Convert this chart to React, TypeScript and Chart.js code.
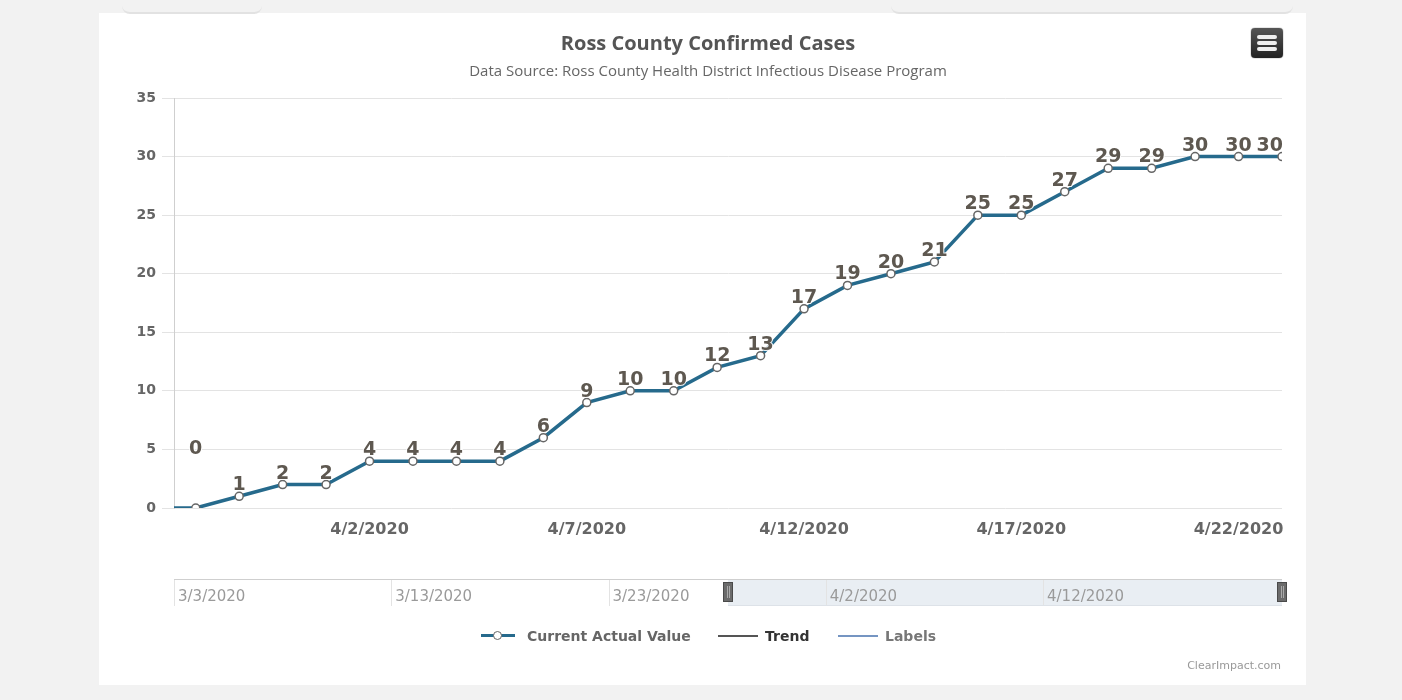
import React, { useEffect, useRef } from 'react';
import { Chart, registerables } from 'chart.js';

Chart.register(...registerables);

// ---------- data ----------
const dates = [
  '3/28/2020', '3/29/2020', '3/30/2020', '3/31/2020', '4/1/2020', '4/2/2020', '4/3/2020',
  '4/4/2020', '4/5/2020', '4/6/2020', '4/7/2020', '4/8/2020', '4/9/2020', '4/10/2020',
  '4/11/2020', '4/12/2020', '4/13/2020', '4/14/2020', '4/15/2020', '4/16/2020', '4/17/2020',
  '4/18/2020', '4/19/2020', '4/20/2020', '4/21/2020', '4/22/2020', '4/23/2020',
];
const cases = [0, 0, 1, 2, 2, 4, 4, 4, 4, 6, 9, 10, 10, 12, 13, 17, 19, 20, 21, 25, 25, 27, 29, 29, 30, 30, 30];

const xTickDates = ['4/2/2020', '4/7/2020', '4/12/2020', '4/17/2020', '4/22/2020'];
const navTickDates = ['3/3/2020', '3/13/2020', '3/23/2020', '4/2/2020', '4/12/2020'];
const navStartDate = '3/3/2020';
const viewStartDate = '3/28/2020';
const viewEndDate = '4/23/2020';
const yMin = 0;
const yMax = 35;
const yStep = 5;

const titleText = 'Ross County Confirmed Cases';
const subtitleText = 'Data Source: Ross County Health District Infectious Disease Program';
const seriesName = 'Current Actual Value';
const legendNames = ['Current Actual Value', 'Trend', 'Labels'];

// ---------- helpers ----------
const DAY = 86400000;
const BASE = Date.UTC(2020, 2, 3);
function dayIndex(s: string): number {
  const [m, d, y] = s.split('/').map(Number);
  return (Date.UTC(y, m - 1, d) - BASE) / DAY;
}
function fmt(day: number): string {
  const dt = new Date(BASE + Math.round(day) * DAY);
  return `${dt.getUTCMonth() + 1}/${dt.getUTCDate()}/${dt.getUTCFullYear()}`;
}

const LINE = '#266a8c';
const LABEL = '#5e5850';
const AXIS_TXT = '#666';

const viewMin = dayIndex(viewStartDate) + 0.5;
const viewMax = dayIndex(viewEndDate);

const pointLabelPlugin = {
  id: 'pointLabels',
  afterDatasetsDraw(chart: any) {
    const ctx = chart.ctx;
    const area = chart.chartArea;
    const meta = chart.getDatasetMeta(0);
    ctx.save();
    ctx.font = 'bold 19px "DejaVu Sans"';
    ctx.textAlign = 'center';
    ctx.textBaseline = 'middle';
    ctx.lineJoin = 'round';
    meta.data.forEach((pt: any, i: number) => {
      if (pt.x < area.left - 1 || pt.x > area.right + 1) return;
      const v = cases[i];
      const txt = String(v);
      const w = ctx.measureText(txt).width;
      let x = pt.x;
      if (x + w / 2 > area.right + 1) x = area.right + 1 - w / 2;
      const y = v === 0 ? pt.y - 59 : pt.y - 11;
      ctx.strokeStyle = 'rgba(255,255,255,0.9)';
      ctx.lineWidth = 2;
      ctx.strokeText(txt, x, y);
      ctx.fillStyle = LABEL;
      ctx.fillText(txt, x, y);
    });
    ctx.restore();
  },
};

const navigatorPlugin = {
  id: 'navigatorDraw',
  beforeDraw(chart: any) {
    const ctx = chart.ctx;
    const area = chart.chartArea;
    const xs = chart.scales.x;
    const top = area.top;
    const bottom = area.bottom;
    ctx.save();
    const sx0 = xs.getPixelForValue(viewMin);
    const sx1 = xs.getPixelForValue(viewMax);
    ctx.fillStyle = '#e9eef3';
    ctx.fillRect(sx0, top, sx1 - sx0, bottom - top);
    ctx.strokeStyle = '#e3e3e3';
    ctx.lineWidth = 1;
    navTickDates.forEach((d) => {
      const px = Math.round(xs.getPixelForValue(dayIndex(d))) + 0.5;
      ctx.beginPath();
      ctx.moveTo(px, top);
      ctx.lineTo(px, bottom);
      ctx.stroke();
    });
    ctx.strokeStyle = '#cfcfcf';
    ctx.beginPath();
    ctx.moveTo(area.left, top + 0.5);
    ctx.lineTo(area.right, top + 0.5);
    ctx.stroke();
    ctx.strokeStyle = '#dde2e8';
    ctx.beginPath();
    ctx.moveTo(sx0, bottom - 0.5);
    ctx.lineTo(sx1, bottom - 0.5);
    ctx.stroke();
    ctx.font = '15px "DejaVu Sans"';
    ctx.fillStyle = '#9a9a9a';
    ctx.textAlign = 'left';
    ctx.textBaseline = 'middle';
    navTickDates.forEach((d) => {
      const px = xs.getPixelForValue(dayIndex(d));
      ctx.fillText(d, px + 4, (top + bottom) / 2 + 5);
    });
    [sx0, sx1].forEach((hx) => {
      const x0 = Math.round(hx) - 5;
      ctx.fillStyle = '#6b6b6b';
      ctx.strokeStyle = '#4a4a4a';
      ctx.fillRect(x0, top + 3, 10, 20);
      ctx.strokeRect(x0 + 0.5, top + 3.5, 9, 19);
      ctx.strokeStyle = '#aaa';
      ctx.beginPath();
      ctx.moveTo(x0 + 4.5, top + 7);
      ctx.lineTo(x0 + 4.5, top + 19);
      ctx.moveTo(x0 + 6.5, top + 7);
      ctx.lineTo(x0 + 6.5, top + 19);
      ctx.stroke();
    });
    ctx.restore();
  },
};

export default function App() {
  const mainRef = useRef<HTMLCanvasElement | null>(null);
  const navRef = useRef<HTMLCanvasElement | null>(null);

  useEffect(() => {
    const main = new Chart(mainRef.current as HTMLCanvasElement, {
      type: 'line',
      data: {
        datasets: [
          {
            label: seriesName,
            data: dates.map((d, i) => ({ x: dayIndex(d), y: cases[i] })),
            borderColor: LINE,
            borderWidth: 3.5,
            pointRadius: 4,
            pointBorderWidth: 1.5,
            pointBorderColor: '#666',
            pointBackgroundColor: '#fff',
            tension: 0,
          },
        ],
      },
      options: {
        animation: false,
        responsive: false,
        maintainAspectRatio: false,
        layout: { padding: { left: 134, right: 120, top: 0, bottom: 152 } },
        plugins: {
          legend: { display: false },
          tooltip: { enabled: false },
          title: {
            display: true,
            text: titleText,
            font: { family: '"Open Sans"', size: 20, weight: 'bold' },
            color: '#555',
            padding: { top: 32, bottom: 0 },
          },
          subtitle: {
            display: true,
            text: subtitleText,
            font: { family: '"Open Sans"', size: 15 },
            color: '#666',
            padding: { top: 7, bottom: 17 },
          },
        },
        scales: {
          x: {
            type: 'linear',
            min: viewMin,
            max: viewMax,
            grid: { display: false },
            border: { display: false },
            afterBuildTicks: (s: any) => {
              s.ticks = xTickDates.map((d) => ({ value: dayIndex(d) }));
            },
            afterFit: (s: any) => {
              s.height = 40;
            },
            ticks: {
              callback: (v: any) => fmt(Number(v)),
              font: { family: '"DejaVu Sans"', size: 16, weight: 'bold' },
              color: AXIS_TXT,
              padding: 4,
              maxRotation: 0,
              autoSkip: false,
            },
          },
          y: {
            min: yMin,
            max: yMax,
            afterFit: (s: any) => {
              s.width = 40;
            },
            ticks: {
              stepSize: yStep,
              font: { family: '"DejaVu Sans"', size: 14, weight: 'bold' },
              color: AXIS_TXT,
              padding: 6,
            },
            grid: { color: '#e3e3e3', tickLength: 12, tickColor: '#e3e3e3' },
            border: { display: true, color: '#cfcfcf' },
          },
        },
      },
      plugins: [pointLabelPlugin],
    } as any);

    const nav = new Chart(navRef.current as HTMLCanvasElement, {
      type: 'line',
      data: { datasets: [] },
      options: {
        animation: false,
        responsive: false,
        maintainAspectRatio: false,
        layout: { padding: { left: 174, right: 120, top: 0, bottom: 0 } },
        plugins: { legend: { display: false }, tooltip: { enabled: false } },
        scales: {
          x: { type: 'linear', min: dayIndex(navStartDate), max: viewMax, display: false },
          y: { min: yMin, max: yMax, display: false },
        },
      },
      plugins: [navigatorPlugin],
    } as any);

    return () => {
      main.destroy();
      nav.destroy();
    };
  }, []);

  const legendText = (color: string, left: number): React.CSSProperties => ({
    position: 'absolute',
    left,
    top: 627,
    fontFamily: '"DejaVu Sans"',
    fontWeight: 'bold',
    fontSize: 14,
    lineHeight: '18px',
    color,
    whiteSpace: 'nowrap',
  });

  return (
    <div
      style={{
        position: 'fixed',
        left: 0,
        top: 0,
        width: 1402,
        height: 700,
        background: '#f2f2f2',
        overflow: 'hidden',
      }}
    >
      <div style={{ position: 'absolute', left: 99, top: 13, width: 1207, height: 672, background: '#fff' }} />
      <div
        style={{
          position: 'absolute',
          left: 122,
          top: 6,
          width: 140,
          height: 6,
          borderBottom: '2px solid #e2e2e2',
          borderRadius: '0 0 8px 8px',
          background: '#f2f2f2',
        }}
      />
      <div
        style={{
          position: 'absolute',
          left: 891,
          top: 6,
          width: 402,
          height: 6,
          borderBottom: '2px solid #e2e2e2',
          borderRadius: '0 0 8px 8px',
          background: '#f2f2f2',
        }}
      />
      <canvas
        ref={mainRef}
        width={1402}
        height={700}
        style={{ position: 'absolute', left: 0, top: 0, width: 1402, height: 700 }}
      />
      <canvas
        ref={navRef}
        width={1402}
        height={27}
        style={{ position: 'absolute', left: 0, top: 579, width: 1402, height: 27 }}
      />
      <div
        style={{
          position: 'absolute',
          left: 1251,
          top: 28,
          width: 32,
          height: 30,
          borderRadius: 4,
          background: 'linear-gradient(#555, #222)',
          boxShadow: '0 0 1px #000',
        }}
      >
        {[7, 13, 19].map((t) => (
          <div
            key={t}
            style={{
              position: 'absolute',
              left: 6,
              top: t,
              width: 20,
              height: 4,
              borderRadius: 2,
              background: '#eee',
            }}
          />
        ))}
      </div>
      <div style={{ position: 'absolute', left: 481, top: 634, width: 34, height: 3, background: LINE }} />
      <div
        style={{
          position: 'absolute',
          left: 493,
          top: 631,
          width: 7,
          height: 7,
          borderRadius: '50%',
          border: '1.5px solid #666',
          background: '#fff',
        }}
      />
      <div style={legendText('#666', 527)}>{legendNames[0]}</div>
      <div style={{ position: 'absolute', left: 718, top: 635, width: 40, height: 2, background: '#555' }} />
      <div style={legendText('#333', 765)}>{legendNames[1]}</div>
      <div style={{ position: 'absolute', left: 838, top: 635, width: 40, height: 2, background: '#7595c2' }} />
      <div style={legendText('#777', 885)}>{legendNames[2]}</div>
      <div
        style={{
          position: 'absolute',
          right: 121,
          top: 659,
          fontFamily: '"DejaVu Sans"',
          fontSize: 11,
          color: '#999',
          whiteSpace: 'nowrap',
        }}
      >
        ClearImpact.com
      </div>
    </div>
  );
}
